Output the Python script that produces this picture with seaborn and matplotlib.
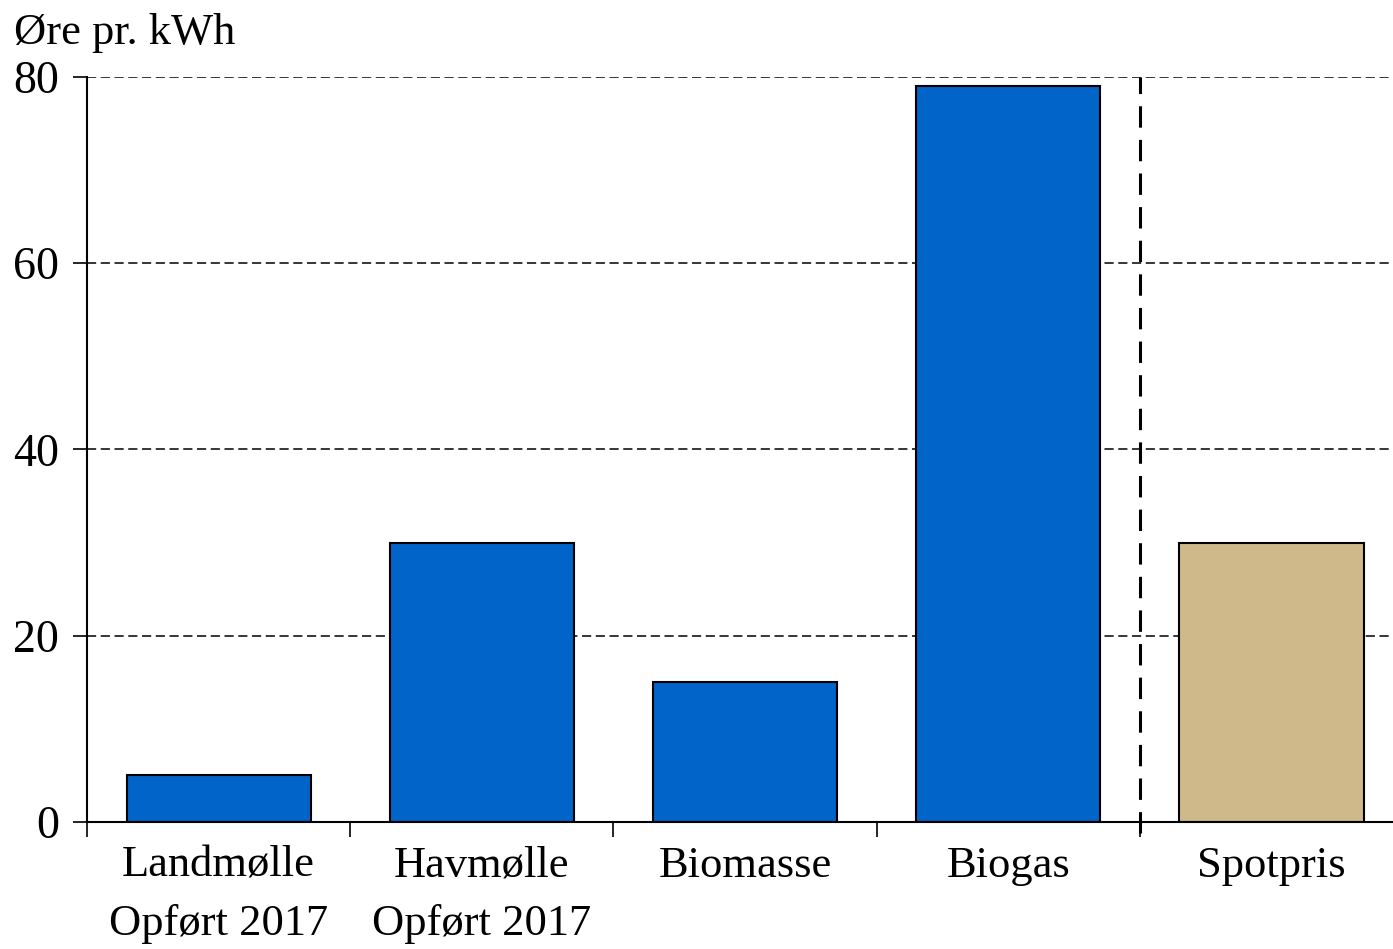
import pandas as pd
import numpy as np
import matplotlib
matplotlib.use('Agg')
import matplotlib.pyplot as plt
import seaborn as sns

# data
categories = ['Landmølle\nOpført 2017', 'Havmølle\nOpført 2017', 'Biomasse', 'Biogas', 'Spotpris']
values = [5, 30, 15, 79, 30]
bar_colors = ['#0064C8', '#0064C8', '#0064C8', '#0064C8', '#CFB98A']
y_ticks = [0, 20, 40, 60, 80]

df = pd.DataFrame({'cat': categories, 'val': values})

sns.set_style('white')
plt.rcParams['font.family'] = ['Liberation Serif', 'DejaVu Serif']
plt.rcParams['text.color'] = 'black'
plt.rcParams['xtick.color'] = 'black'
plt.rcParams['ytick.color'] = 'black'

fig = plt.figure(figsize=(13.93, 9.49), dpi=100)
ax = fig.add_axes([0.0625, 0.1338, 0.9375, 0.7851])

sns.barplot(data=df, x='cat', y='val', hue='cat', palette=bar_colors,
            legend=False, width=0.70, edgecolor='black', linewidth=1.5,
            saturation=1, ax=ax)

ax.set_ylim(0, 80)
ax.set_xlim(-0.5, 4.462)
ax.set_yticks(y_ticks)
ax.set_xlabel('')
ax.set_ylabel('')

# dashed grid behind the bars
ax.set_axisbelow(True)
ax.yaxis.grid(True, linestyle=(0, (6, 3)), color='black', linewidth=1.1)
ax.xaxis.grid(False)

# separator between technologies and spot price
ax.axvline(3.5, ymin=-0.015, ymax=1.0, color='black', linewidth=2.2,
           linestyle=(0, (7, 4)), clip_on=False, zorder=5)

for side in ['top', 'right']:
    ax.spines[side].set_visible(False)
for side in ['left', 'bottom']:
    ax.spines[side].set_color('black')
    ax.spines[side].set_linewidth(1.5)

ax.tick_params(axis='y', which='major', direction='out', length=10, width=1.2,
               color='black', labelcolor='black', labelsize=33, pad=10, left=True)
ax.tick_params(axis='x', which='major', length=0, labelsize=32,
               labelcolor='black', pad=17)
ax.set_xticks([-0.5, 0.5, 1.5, 2.5, 3.5], minor=True)
ax.tick_params(axis='x', which='minor', direction='out', length=11, width=1.2,
               color='black', bottom=True)
for lab in ax.get_xticklabels():
    lab.set_linespacing(1.6)
    lab.set_verticalalignment('top')

fig.text(0.010, 0.965, 'Øre pr. kWh', fontsize=32, ha='left', va='center')

fig.savefig('out.png', dpi=100)
